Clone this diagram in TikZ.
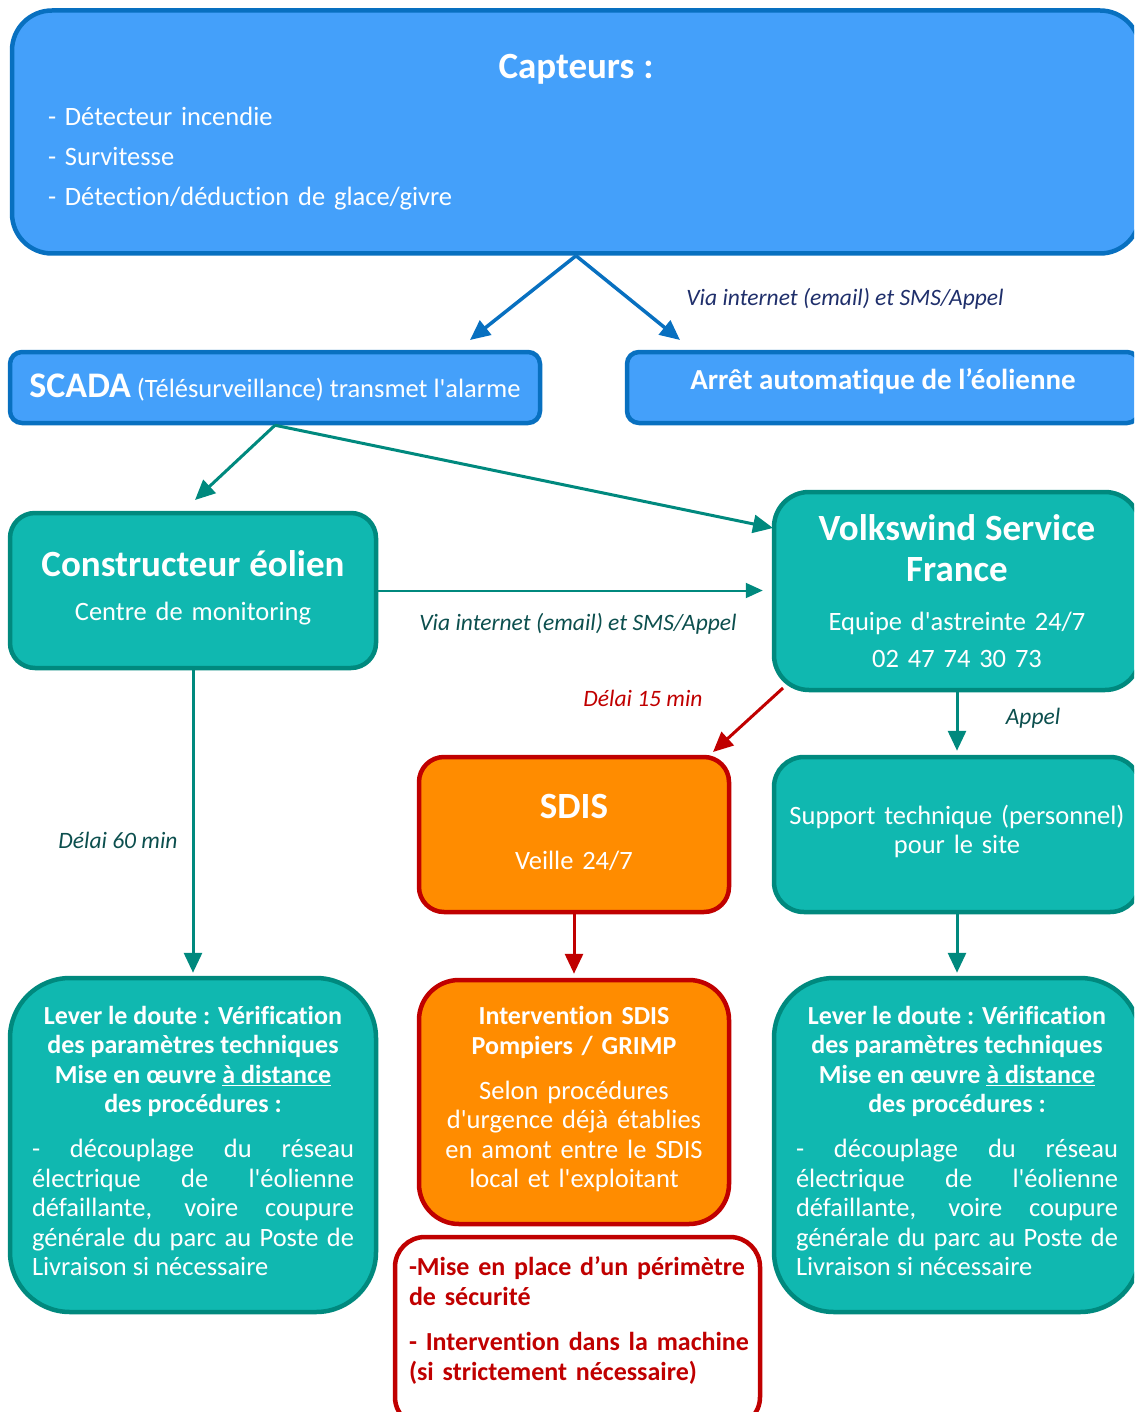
\documentclass[tikz,border=0pt]{standalone}
\usepackage{fontspec}
\setmainfont{Carlito}[Ligatures={NoCommon}]
\usepackage{xcolor}
\usetikzlibrary{positioning, arrows.meta}
\definecolor{capblue}{HTML}{44A0FA}
\definecolor{capedge}{HTML}{0870C0}
\definecolor{wtteal}{HTML}{10B8B0}
\definecolor{wtedge}{HTML}{00897E}
\definecolor{sdisorange}{HTML}{FF8C00}
\definecolor{sdisred}{HTML}{C00000}
\definecolor{labelnavy}{HTML}{1F2F6B}
\definecolor{labelteal}{HTML}{0C4F4E}
\newcommand{\bodyfont}{\fontsize{26.5}{32}\selectfont}
\newcommand{\titlefont}{\fontsize{37}{41}\selectfont\bfseries}
\newcommand{\labelfont}{\fontsize{23.5}{28}\selectfont\itshape}
\newcommand{\apos}{\textquotesingle}
\tikzset{
  box/.style={line width=4.5pt, inner sep=0pt, align=center, text=white, font=\bodyfont},
  bluebox/.style={box, fill=capblue, draw=capedge, rounded corners=12pt},
  tealbox/.style={box, fill=wtteal, draw=wtedge},
  sdisbox/.style={box, fill=sdisorange, draw=sdisred},
  safetybox/.style={box, fill=white, draw=sdisred, text=sdisred},
  linklabel/.style={font=\labelfont, inner sep=0pt},
  bluearrow/.style={draw=capedge, line width=3.5pt, -{Triangle[length=20pt, width=18pt]}},
  tealarrow/.style={draw=wtedge, line width=3pt, -{Triangle[length=20pt, width=18pt]}},
  thinarrow/.style={draw=wtedge, line width=2pt, -{Triangle[length=17pt, width=15pt]}},
  redarrow/.style={draw=sdisred, line width=3pt, -{Triangle[length=20pt, width=18pt]}}
}

\begin{document}
\begin{tikzpicture}[x=1pt, y=-1pt]
  \useasboundingbox (0,0) rectangle (1134,1412);
  \clip (0,0) rectangle (1134,1412);

  % sensors and first reactions
  \node[bluebox, rounded corners=40pt, minimum width=1128, minimum height=243,
        text width=1056, align=left] (capteurs) at (576,132) {%
    {\centering\titlefont Capteurs :\par}
    \vspace{7.5pt}
    {\fontsize{26.5}{40}\selectfont - Détecteur incendie\par
     - Survitesse\par
     - Détection/déduction de glace/givre\par}};
  \node[bluebox, minimum width=530, minimum height=71] (scada) at (275,387.5)
    {{\fontsize{36}{38}\selectfont\bfseries SCADA} (Télésurveillance) transmet l\apos alarme};
  \node[bluebox, minimum width=512, minimum height=71, text depth=18pt] (arret) at (883,387.5)
    {\fontsize{29}{32}\selectfont\bfseries Arrêt automatique de l’éolienne};

  % operators
  \node[tealbox, rounded corners=25pt, minimum width=366, minimum height=155,
        text width=340] (constructeur) at (193,590.5) {%
    {\titlefont Constructeur éolien\par}\vspace{12.5pt}Centre de monitoring\par\vspace{5pt}};
  \node[tealbox, rounded corners=35pt, minimum width=366, minimum height=198,
        text width=340] (volkswind) at (957,591) {%
    {\titlefont Volkswind Service\\France\par}\vspace{11.5pt}%
    {\fontsize{26.5}{37}\selectfont Equipe d\apos astreinte 24/7\\02 47 74 30 73\par}};
  \node[sdisbox, rounded corners=25pt, minimum width=310, minimum height=155,
        text width=290] (sdis) at (574,834.5) {%
    {\titlefont SDIS\par}\vspace{18.5pt}Veille 24/7\par\vspace{4pt}};
  \node[tealbox, rounded corners=30pt, minimum width=366, minimum height=155,
        text width=350] (support) at (957,834.5) {%
    {\fontsize{26.5}{29.5}\selectfont Support technique (personnel)\\pour le site\par}
    \vspace{6pt}};

  % actions
  \node[tealbox, rounded corners=60pt, minimum width=366, minimum height=334,
        text width=322, align=justify] (leverA) at (193,1145) {%
    {\centering\fontsize{26}{29.5}\selectfont\bfseries Lever le doute : Vérification\\
     des paramètres techniques\\Mise en œuvre \underline{à distance}\\des procédures :\par}
    \vspace{15.5pt}
    {\fontsize{26.5}{29.5}\selectfont - découplage du réseau\linebreak
     électrique de l\apos éolienne\linebreak défaillante, voire coupure\linebreak
     générale du parc au Poste de\linebreak Livraison si nécessaire\par}
    \vspace{8pt}};
  \node[tealbox, rounded corners=60pt, minimum width=366, minimum height=334,
        text width=322, align=justify] (leverB) at (957,1145) {%
    {\centering\fontsize{26}{29.5}\selectfont\bfseries Lever le doute : Vérification\\
     des paramètres techniques\\Mise en œuvre \underline{à distance}\\des procédures :\par}
    \vspace{15.5pt}
    {\fontsize{26.5}{29.5}\selectfont - découplage du réseau\linebreak
     électrique de l\apos éolienne\linebreak défaillante, voire coupure\linebreak
     générale du parc au Poste de\linebreak Livraison si nécessaire\par}
    \vspace{8pt}};
  \node[sdisbox, rounded corners=40pt, minimum width=310, minimum height=244,
        text width=290] (intervention) at (574,1102) {%
    {\fontsize{26}{30}\selectfont\bfseries Intervention SDIS\\Pompiers / GRIMP\par}
    \vspace{15.5pt}
    {\fontsize{26.5}{29.5}\selectfont Selon procédures\\d\apos urgence déjà établies\\
     en amont entre le SDIS\\local et l\apos exploitant\par}
    \vspace{6pt}};
  \node[safetybox, rounded corners=30pt, minimum width=365, minimum height=190,
        text width=337, align=left] (securite) at (577.5,1332) {%
    {\fontsize{26}{30}\selectfont\bfseries \mbox{-Mise en place d’un périmètre}\\de sécurité\par}
    \vspace{15pt}
    {\fontsize{26}{30}\selectfont\bfseries \mbox{- Intervention dans la machine}\\
     (si strictement nécessaire)\par}
    \vspace{24pt}};

  % free ends of the slanted connectors
  \coordinate (scadatip) at (470,340);
  \coordinate (arrettip) at (680,340);
  \coordinate (constrtip) at (195,500);
  \coordinate (vswtip) at (773,528);
  \coordinate (alertstart) at (783,688);
  \coordinate (sdistip) at (713,752);

  \draw[bluearrow] (capteurs.south) -- (scadatip);
  \draw[bluearrow] (capteurs.south) -- (arrettip);
  \draw[tealarrow] (scada.south) -- (constrtip);
  \draw[tealarrow] (scada.south) -- (vswtip);
  \draw[thinarrow, shorten >=9pt] (constructeur.east) -- (constructeur.east -| volkswind.west);
  \draw[redarrow] (alertstart) -- (sdistip);
  \draw[tealarrow, shorten >=4pt] (volkswind.south) -- (support.north);
  \draw[tealarrow, shorten >=3pt] (constructeur.south) -- (leverA.north);
  \draw[redarrow, shorten >=4pt] (sdis.south) -- (intervention.north);
  \draw[tealarrow, shorten >=3pt] (support.south) -- (leverB.north);

  % connector labels
  \node[linklabel, text=labelnavy] (viahaut) at (845,299) {Via internet (email) et SMS/Appel};
  \node[linklabel, text=labelteal] (viamilieu) at (578,624) {Via internet (email) et SMS/Appel};
  \node[linklabel, text=sdisred] (delaiquinze) at (643,698) {Délai 15 min};
  \node[linklabel, text=labelteal] (appel) at (1033,718) {Appel};
  \node[linklabel, text=labelteal] (delaisoixante) at (118,840) {Délai 60 min};
\end{tikzpicture}
\end{document}
